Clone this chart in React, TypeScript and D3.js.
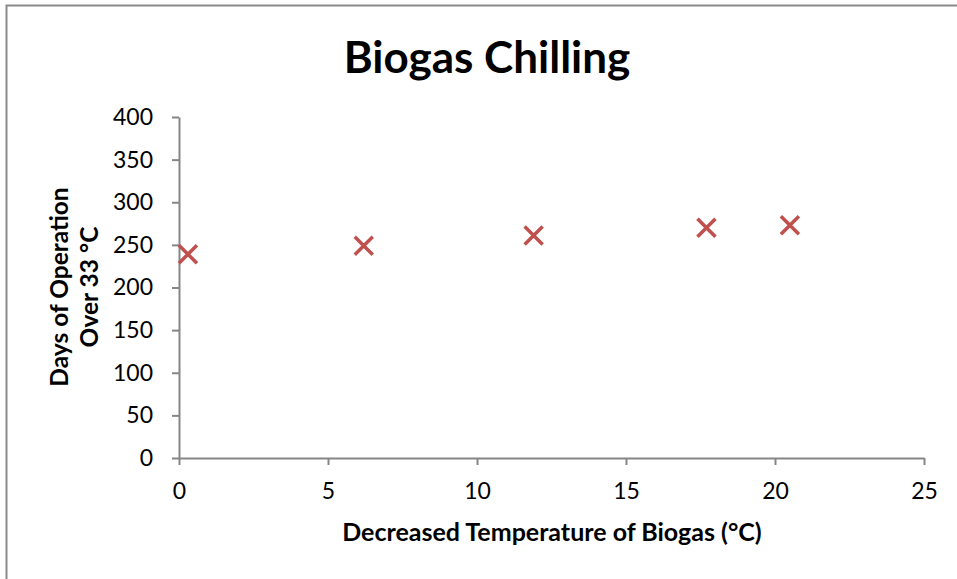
import * as d3 from "d3";
import { useEffect, useRef } from "react";

// Values
const tempDrop = [0.3, 6.2, 11.9, 17.7, 20.5];
const daysOver = [239, 249, 261, 270, 273];
const xTicks = [0, 5, 10, 15, 20, 25];
const yTicks = [0, 50, 100, 150, 200, 250, 300, 350, 400];

const title = "Biogas Chilling";
const xTitle = "Decreased Temperature of Biogas (°C)";
const yTitleLines = ["Days of Operation", "Over 33 °C"];

function draw(node: SVGSVGElement) {
  const width = 957;
  const height = 579;
  const font = "Lato, 'Open Sans', sans-serif";
  const axisColor = "#868686";

  const x = d3.scaleLinear().domain([0, 25]).range([179, 924]);
  const y = d3.scaleLinear().domain([0, 400]).range([458, 117]);

  const svg = d3.select(node);
  svg.selectAll("*").remove();
  svg.attr("width", width).attr("height", height).attr("viewBox", [0, 0, width, height]);

  svg.append("rect").attr("width", width).attr("height", height).attr("fill", "white");

  // outer chart border (runs off the right and bottom edge)
  svg.append("rect")
    .attr("x", 6.5)
    .attr("y", 5.5)
    .attr("width", width + 10)
    .attr("height", height + 10)
    .attr("fill", "none")
    .attr("stroke", "#8a8a8a")
    .attr("stroke-width", 2);

  // title
  svg.append("text")
    .attr("x", 487)
    .attr("y", 73)
    .attr("text-anchor", "middle")
    .attr("font-family", font)
    .attr("font-weight", "bold")
    .attr("font-size", 44)
    .text(title);

  // x axis
  const gx = svg.append("g")
    .attr("transform", `translate(0,${y(0)})`)
    .call(d3.axisBottom(x).tickValues(xTicks).tickSize(7).tickSizeOuter(0).tickPadding(18).tickFormat(d3.format("d")));
  gx.select(".domain").attr("stroke", axisColor).attr("stroke-width", 2);
  gx.selectAll(".tick line").attr("stroke", axisColor).attr("stroke-width", 2);
  gx.selectAll(".tick text")
    .attr("font-family", font)
    .attr("font-size", 23)
    .attr("fill", "#000");

  // y axis
  const gy = svg.append("g")
    .attr("transform", `translate(${x(0)},0)`)
    .call(d3.axisLeft(y).tickValues(yTicks).tickSize(7).tickSizeOuter(0).tickPadding(19).tickFormat(d3.format("d")));
  gy.select(".domain").attr("stroke", axisColor).attr("stroke-width", 2);
  gy.selectAll(".tick line").attr("stroke", axisColor).attr("stroke-width", 2);
  gy.selectAll(".tick text")
    .attr("font-family", font)
    .attr("font-size", 23)
    .attr("fill", "#000");
  svg.selectAll(".domain").attr("fill", "none");

  // axis titles
  svg.append("text")
    .attr("x", 552)
    .attr("y", 541)
    .attr("text-anchor", "middle")
    .attr("font-family", font)
    .attr("font-weight", "bold")
    .attr("font-size", 25)
    .text(xTitle);

  const yt = svg.append("text")
    .attr("transform", "translate(68,287) rotate(-90)")
    .attr("text-anchor", "middle")
    .attr("font-family", font)
    .attr("font-weight", "bold")
    .attr("font-size", 24.5);
  yt.selectAll("tspan")
    .data(yTitleLines)
    .join("tspan")
    .attr("x", 0)
    .attr("dy", (_, i) => (i === 0 ? 0 : 30))
    .text((d) => d);

  // markers
  const pts = tempDrop.map((t, i) => [t, daysOver[i]] as [number, number]);
  const r = 9;
  svg.append("g")
    .attr("stroke", "#C0504D")
    .attr("stroke-width", 3.5)
    .selectAll("path")
    .data(pts)
    .join("path")
    .attr("d", (d) => {
      const cx = x(d[0]);
      const cy = y(d[1]);
      return `M${cx - r},${cy - r}L${cx + r},${cy + r}M${cx - r},${cy + r}L${cx + r},${cy - r}`;
    });
}

export default function App() {
  const ref = useRef<SVGSVGElement | null>(null);
  useEffect(() => {
    if (ref.current) draw(ref.current);
  }, []);
  return (
    <div style={{ position: "absolute", left: 0, top: 0 }}>
      <svg ref={ref} style={{ display: "block" }} />
    </div>
  );
}
